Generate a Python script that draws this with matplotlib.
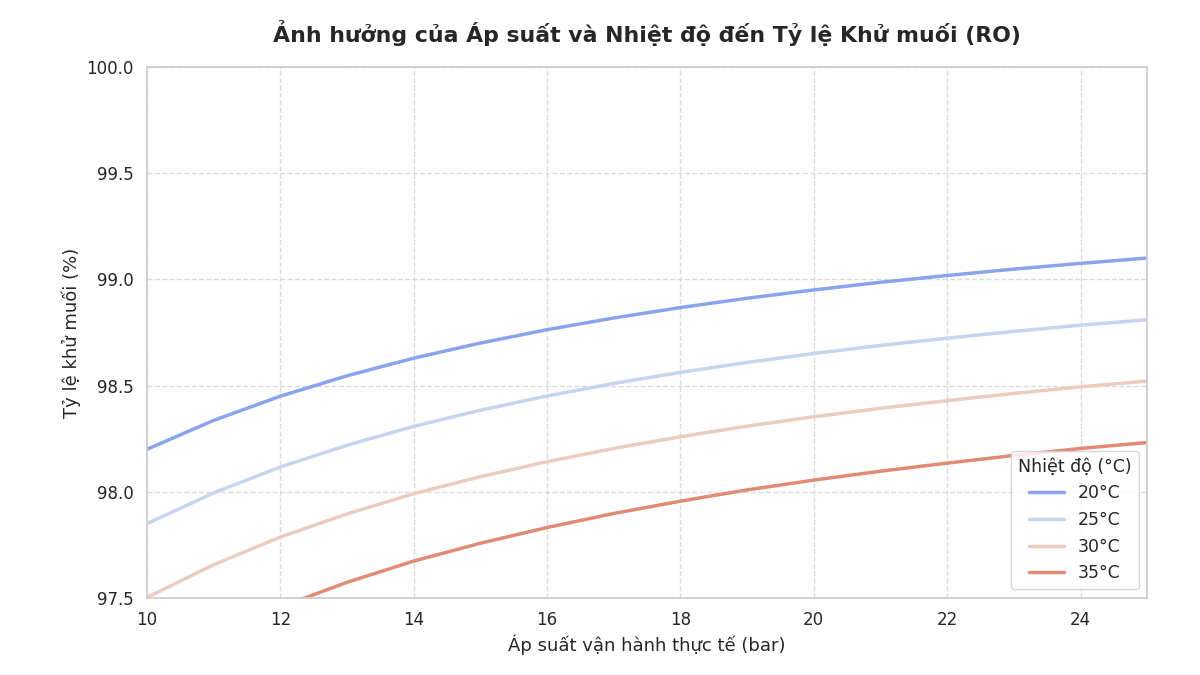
import numpy as np
import matplotlib
matplotlib.use("Agg")
import matplotlib.pyplot as plt
import seaborn as sns

# Dữ liệu
pressure = [10, 11, 12, 13, 14, 15, 16, 17, 18, 19, 20, 21, 22, 23, 24, 25]
temperatures = ["20°C", "25°C", "30°C", "35°C"]

rej_20 = [98.200, 98.336, 98.450, 98.546, 98.629, 98.700, 98.763, 98.818,
          98.867, 98.911, 98.950, 98.986, 99.018, 99.048, 99.075, 99.100]
rej_25 = [97.850, 97.995, 98.117, 98.219, 98.308, 98.384, 98.451, 98.510,
          98.562, 98.609, 98.651, 98.689, 98.723, 98.755, 98.784, 98.810]
rej_30 = [97.503, 97.657, 97.787, 97.896, 97.991, 98.071, 98.142, 98.204,
          98.259, 98.309, 98.353, 98.393, 98.429, 98.463, 98.494, 98.521]
rej_35 = [97.158, 97.321, 97.458, 97.574, 97.674, 97.758, 97.832, 97.898,
          97.956, 98.009, 98.055, 98.097, 98.135, 98.171, 98.204, 98.232]

series = [rej_20, rej_25, rej_30, rej_35]

sns.set_theme(style="whitegrid")
plt.rcParams['font.family'] = ['DejaVu Sans']

colors = sns.color_palette("coolwarm", len(temperatures), desat=0.8)

fig, ax = plt.subplots(figsize=(12, 6.75), dpi=100)
fig.subplots_adjust(left=0.1225, right=0.956, top=0.901, bottom=0.114)

for label, values, color in zip(temperatures, series, colors):
    ax.plot(pressure, values, label=label, color=color, linewidth=2.5)

ax.set_xlim(10, 25)
ax.set_ylim(97.5, 100.0)
ax.set_xticks(np.arange(10, 25, 2))
ax.set_yticks(np.arange(97.5, 100.01, 0.5))
ax.yaxis.set_major_formatter(matplotlib.ticker.FormatStrFormatter('%.1f'))

ax.set_title("Ảnh hưởng của Áp suất và Nhiệt độ đến Tỷ lệ Khử muối (RO)",
             fontsize=15.8, fontweight='bold', pad=18)
ax.set_xlabel("Áp suất vận hành thực tế (bar)", fontsize=13)
ax.set_ylabel("Tỷ lệ khử muối (%)", fontsize=13)
ax.tick_params(labelsize=12)

ax.grid(True, linestyle='--', alpha=0.7)
ax.legend(title="Nhiệt độ (°C)", loc='lower right', fontsize=12.5, title_fontsize=12.5)

fig.savefig("out.png", dpi=100)
